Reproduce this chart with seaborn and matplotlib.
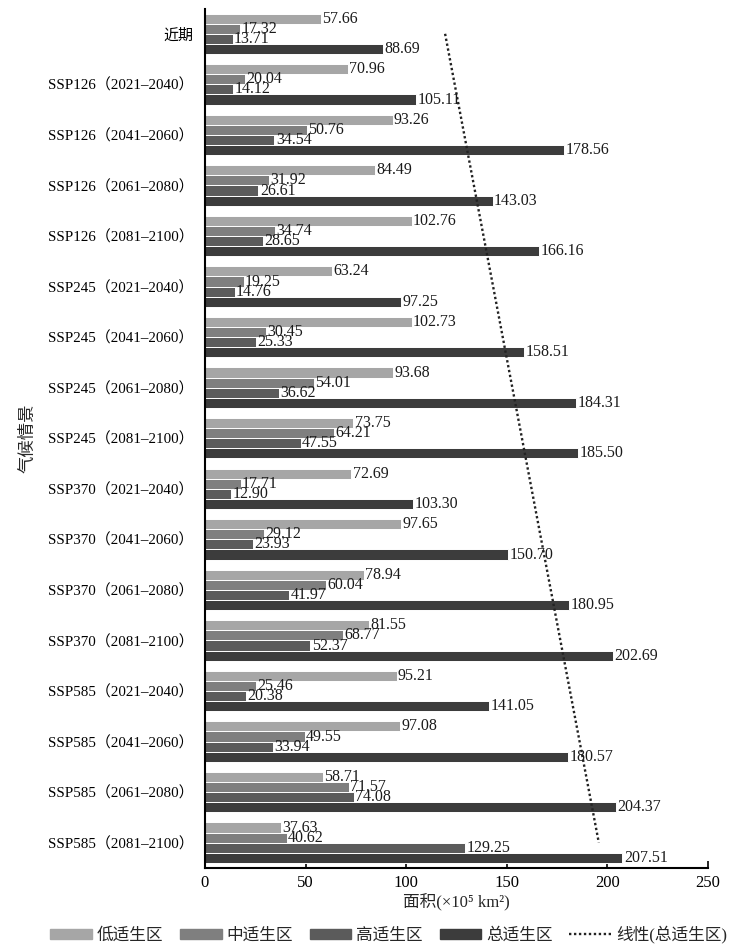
import numpy as np
import pandas as pd
import matplotlib
matplotlib.use('Agg')
import matplotlib.pyplot as plt
import seaborn as sns

scenarios = ['近期',
             'SSP126（2021–2040）', 'SSP126（2041–2060）', 'SSP126（2061–2080）', 'SSP126（2081–2100）',
             'SSP245（2021–2040）', 'SSP245（2041–2060）', 'SSP245（2061–2080）', 'SSP245（2081–2100）',
             'SSP370（2021–2040）', 'SSP370（2041–2060）', 'SSP370（2061–2080）', 'SSP370（2081–2100）',
             'SSP585（2021–2040）', 'SSP585（2041–2060）', 'SSP585（2061–2080）', 'SSP585（2081–2100）']
zones = ['低适生区', '中适生区', '高适生区', '总适生区']

low = [57.66, 70.96, 93.26, 84.49, 102.76, 63.24, 102.73, 93.68, 73.75,
       72.69, 97.65, 78.94, 81.55, 95.21, 97.08, 58.71, 37.63]
mid = [17.32, 20.04, 50.76, 31.92, 34.74, 19.25, 30.45, 54.01, 64.21,
       17.71, 29.12, 60.04, 68.77, 25.46, 49.55, 71.57, 40.62]
high = [13.71, 14.12, 34.54, 26.61, 28.65, 14.76, 25.33, 36.62, 47.55,
        12.90, 23.93, 41.97, 52.37, 20.38, 33.94, 74.08, 129.25]
total = [88.69, 105.11, 178.56, 143.03, 166.16, 97.25, 158.51, 184.31, 185.50,
         103.30, 150.70, 180.95, 202.69, 141.05, 180.57, 204.37, 207.51]

colors = ['#a6a6a6', '#7f7f7f', '#5b5b5b', '#3c3c3c']

df = pd.DataFrame({'情景': scenarios * 4,
                   '区': np.repeat(zones, len(scenarios)),
                   '面积': low + mid + high + total})

sns.set_theme(style='ticks')
plt.rcParams['font.family'] = ['Liberation Serif', 'Noto Sans CJK SC']
plt.rcParams['axes.unicode_minus'] = False

fig = plt.figure(figsize=(7.48, 9.46), dpi=100)
ax = fig.add_axes([0.274, 0.0825, 0.6725, 0.9085])

sns.barplot(data=df, y='情景', x='面积', hue='区', hue_order=zones, order=scenarios,
            palette=colors, orient='h', width=0.8, edgecolor='white', linewidth=0.7,
            ax=ax, legend=False)

for cont in ax.containers:
    ax.bar_label(cont, fmt='%.2f', padding=1, fontsize=11.5, color='#1a1a1a')

# linear trend of the total area over the scenarios
idx = np.arange(len(scenarios))
k, b = np.polyfit(idx, total, 1)
trend, = ax.plot(k * idx + b, idx, color='#222222', linestyle=(0, (1, 1.1)), linewidth=1.7)

ax.set_xlim(0, 250)
ax.set_ylim(len(scenarios) - 0.5, -0.5)
ax.set_xticks([0, 50, 100, 150, 200, 250])
ax.tick_params(axis='both', direction='in', length=5, width=1.2, colors='black')
ax.tick_params(axis='y', pad=8, labelsize=10.8)
ax.tick_params(axis='x', pad=5, labelsize=12)
for s in ['top', 'right']:
    ax.spines[s].set_visible(False)
for s in ['left', 'bottom']:
    ax.spines[s].set_linewidth(1.5)
    ax.spines[s].set_color('black')

ax.set_xlabel('面积(×10⁵ km²)', fontsize=12, labelpad=1)
ax.set_ylabel('气候情景', fontsize=12.5, labelpad=8)

handles = [plt.Rectangle((0, 0), 1, 1, color=c) for c in colors] + [trend]
labels = zones + ['线性(总适生区)']
ax.legend(handles, labels, loc='upper center', bbox_to_anchor=(0.365, -0.05), ncol=5,
          frameon=False, fontsize=12, handlelength=2.5, handleheight=0.6,
          columnspacing=1.0, handletextpad=0.3)

fig.savefig('out.png', dpi=100)
